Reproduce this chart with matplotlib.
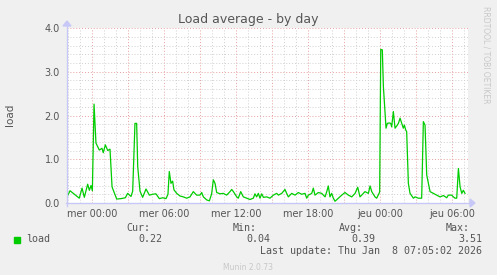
import matplotlib
matplotlib.use("Agg")
import matplotlib.pyplot as plt
from matplotlib.patches import Polygon, Rectangle
from matplotlib.lines import Line2D

# hours after "mer 00:00", and load values
hours = [-2.08, -1.83, -1.47, -1.06, -0.83, -0.64, -0.36, -0.22, -0.08, 0.03,
         0.17, 0.33, 0.61, 0.83, 0.94, 1.11, 1.31, 1.50, 1.67, 1.86,
         2.06, 2.42, 2.78, 2.97, 3.25, 3.39, 3.58, 3.72, 3.81, 4.00,
         4.22, 4.50, 4.78, 5.06, 5.33, 5.61, 5.89, 6.17, 6.33, 6.44,
         6.58, 6.72, 6.83, 7.06, 7.33, 7.61, 7.89, 8.17, 8.44, 8.72,
         9.00, 9.14, 9.28, 9.56, 9.78, 9.97, 10.11, 10.25, 10.39, 10.67,
         10.94, 11.22, 11.50, 11.64, 11.78, 12.06, 12.19, 12.39, 12.61, 12.89,
         13.17, 13.44, 13.58, 13.72, 13.86, 14.00, 14.14, 14.28, 14.56, 14.83,
         15.11, 15.39, 15.53, 15.81, 16.08, 16.22, 16.36, 16.64, 16.92, 17.19,
         17.47, 17.75, 17.89, 18.03, 18.31, 18.44, 18.58, 18.86, 19.14, 19.42,
         19.56, 19.69, 19.83, 19.97, 20.11, 20.25, 20.53, 20.81, 21.08, 21.36,
         21.64, 21.92, 22.14, 22.33, 22.61, 22.75, 23.03, 23.17, 23.31, 23.58,
         23.72, 23.92, 23.97, 24.06, 24.19, 24.28, 24.42, 24.50, 24.61, 24.75,
         24.89, 24.97, 25.11, 25.25, 25.39, 25.53, 25.67, 25.81, 25.94, 26.03,
         26.14, 26.22, 26.36, 26.50, 26.78, 26.92, 27.19, 27.47, 27.61, 27.75,
         27.89, 28.03, 28.17, 28.44, 28.72, 29.00, 29.28, 29.56, 29.69, 29.97,
         30.11, 30.25, 30.39, 30.53, 30.67, 30.81, 30.94, 31.08]
load = [0.14, 0.28, 0.20, 0.11, 0.34, 0.13, 0.43, 0.29, 0.40, 0.28,
        2.26, 1.37, 1.21, 1.25, 1.15, 1.33, 1.20, 1.23, 0.37, 0.23,
        0.09, 0.10, 0.12, 0.22, 0.15, 0.27, 1.82, 1.82, 0.83, 0.27,
        0.13, 0.32, 0.18, 0.20, 0.21, 0.10, 0.12, 0.10, 0.20, 0.72,
        0.45, 0.50, 0.30, 0.22, 0.16, 0.14, 0.11, 0.14, 0.26, 0.18,
        0.18, 0.24, 0.14, 0.07, 0.05, 0.21, 0.53, 0.45, 0.24, 0.21,
        0.22, 0.18, 0.26, 0.31, 0.26, 0.14, 0.11, 0.26, 0.14, 0.11,
        0.08, 0.11, 0.21, 0.14, 0.22, 0.11, 0.21, 0.13, 0.14, 0.11,
        0.18, 0.22, 0.18, 0.22, 0.31, 0.22, 0.14, 0.22, 0.18, 0.24,
        0.20, 0.22, 0.11, 0.18, 0.22, 0.34, 0.18, 0.24, 0.22, 0.14,
        0.26, 0.39, 0.14, 0.22, 0.11, 0.04, 0.11, 0.18, 0.24, 0.18,
        0.14, 0.22, 0.36, 0.14, 0.22, 0.26, 0.22, 0.39, 0.26, 0.14,
        0.11, 0.22, 0.26, 3.51, 3.50, 2.66, 2.05, 1.71, 1.82, 1.83,
        1.82, 1.74, 2.09, 1.71, 1.76, 1.82, 1.94, 1.82, 1.71, 1.78,
        1.67, 1.63, 0.45, 0.22, 0.11, 0.14, 0.11, 0.11, 1.86, 1.78,
        0.64, 0.45, 0.26, 0.22, 0.18, 0.14, 0.17, 0.12, 0.18, 0.18,
        0.14, 0.11, 0.11, 0.79, 0.37, 0.22, 0.29, 0.22]

tick_hours = [0, 6, 12, 18, 24, 30]
tick_labels = ["mer 00:00", "mer 06:00", "mer 12:00", "mer 18:00", "jeu 00:00", "jeu 06:00"]
y_ticks = [0.0, 1.0, 2.0, 3.0, 4.0]

legend_heads = ["Cur:", "Min:", "Avg:", "Max:"]
legend_vals = ["0.22", "0.04", "0.39", "3.51"]
last_update = "Last update: Thu Jan  8 07:05:02 2026"

W, H = 497, 275
bg = "#F0F0F0"
txt = "#555555"
green = "#00CC00"
axis_col = "#C8C8F8"

fig = plt.figure(figsize=(W / 100, H / 100), dpi=100, facecolor=bg)

def fx(px):
    return px / W

def fy(py):
    return 1 - py / H

# plot area in pixel coords: x 67..468, y 28..203
ax = fig.add_axes([fx(67), fy(203), fx(468) - fx(67), fy(28) - fy(203)])
ax.set_facecolor("white")
ax.set_xlim(-2.083, 31.33)
ax.set_ylim(0, 4)
for s in ax.spines.values():
    s.set_visible(False)

# grid: gray minor, red major
for h in range(-2, 32):
    major = (h % 3 == 0)
    ax.axvline(h, color="#E8A0A0" if major else "#D0D0D0", lw=0.7,
               dashes=(1, 2), zorder=1)
for k in range(0, 21):
    v = k * 0.2
    major = (k % 5 == 0)
    ax.axhline(v, color="#E8A0A0" if major else "#D0D0D0", lw=0.7,
               dashes=(1, 2), zorder=1)

ax.plot(hours, load, color=green, lw=0.9, zorder=3)

ax.set_xticks(tick_hours)
ax.set_xticklabels(tick_labels)
ax.set_yticks(y_ticks)
ax.set_yticklabels(["%.1f" % v for v in y_ticks])
ax.tick_params(axis="both", length=0, labelsize=7, labelcolor=txt)
ax.tick_params(axis="x", pad=4)
ax.tick_params(axis="y", pad=5)

# axis lines with arrows
fig.add_artist(Line2D([fx(66), fx(471)], [fy(203), fy(203)], color=axis_col, lw=1))
fig.add_artist(Line2D([fx(67), fx(67)], [fy(206), fy(25)], color=axis_col, lw=1))
fig.add_artist(Polygon([[fx(470), fy(199)], [fx(475), fy(203)], [fx(470), fy(207)]],
                       closed=True, color=axis_col))
fig.add_artist(Polygon([[fx(63), fy(26)], [fx(67), fy(21)], [fx(71), fy(26)]],
                       closed=True, color=axis_col))

fig.text(fx(248), fy(19), "Load average - by day", ha="center", va="center",
         fontsize=9, color=txt)
fig.text(fx(10), fy(115), "load", ha="center", va="center", rotation=90,
         fontsize=7.5, color=txt)
fig.text(fx(486), fy(55), "RRDTOOL / TOBI OETIKER", ha="center", va="center",
         rotation=270, fontsize=5.5, color="#C8C8C8")
fig.text(fx(248), fy(268), "Munin 2.0.73", ha="center", va="center",
         fontsize=5.5, color="#C8C8C8")

# legend
mono = "DejaVu Sans Mono"
fig.add_artist(Rectangle((fx(14), fy(243)), fx(6), 6 / H, color=green))
fig.text(fx(26), fy(239.5), "load", ha="left", va="center", family=mono,
         fontsize=7.2, color=txt)
head_right = [150, 257, 363, 470]
val_right = [162, 270, 375, 482]
for head, val, hr, vr in zip(legend_heads, legend_vals, head_right, val_right):
    fig.text(fx(hr), fy(228), head, ha="right", va="center", family=mono,
             fontsize=7.2, color=txt)
    fig.text(fx(vr), fy(239.5), val, ha="right", va="center", family=mono,
             fontsize=7.2, color=txt)
fig.text(fx(482), fy(251), last_update, ha="right", va="center", family=mono,
         fontsize=7.2, color=txt)

fig.savefig("out.png", dpi=100, facecolor=bg)
